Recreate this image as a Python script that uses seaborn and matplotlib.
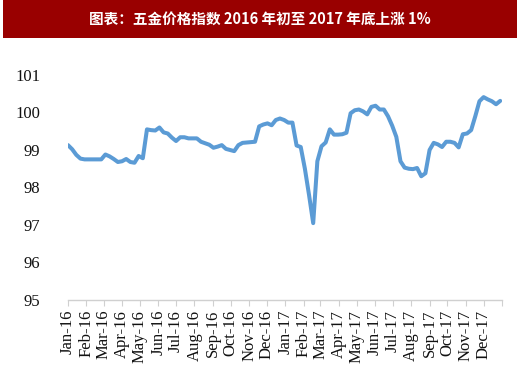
import numpy as np
import pandas as pd
import matplotlib
matplotlib.use("Agg")
import matplotlib.pyplot as plt
from matplotlib.patches import Rectangle
from matplotlib.font_manager import FontProperties
import seaborn as sns

title = "图表：五金价格指数 2016 年初至 2017 年底上涨 1%"
start_date = "2016-01-01"
index_values = [
    99.13, 99.02, 98.87, 98.77, 98.75, 98.75, 98.75, 98.75, 98.75, 98.88,
    98.83, 98.76, 98.68, 98.70, 98.76, 98.68, 98.66, 98.84, 98.78, 99.55,
    99.53, 99.52, 99.60, 99.47, 99.44, 99.33, 99.24, 99.34, 99.34, 99.31,
    99.31, 99.31, 99.22, 99.18, 99.14, 99.06, 99.09, 99.13, 99.03, 99.00,
    98.97, 99.13, 99.19, 99.20, 99.21, 99.22, 99.63, 99.68, 99.71, 99.66,
    99.80, 99.84, 99.80, 99.73, 99.73, 99.12, 99.08, 98.50, 97.80, 97.05,
    98.70, 99.10, 99.20, 99.55, 99.41, 99.41, 99.42, 99.46, 99.98, 100.06,
    100.08, 100.03, 99.95, 100.15, 100.18, 100.08, 100.08, 99.90, 99.65, 99.35,
    98.70, 98.53, 98.50, 98.49, 98.52, 98.30, 98.38, 99.00, 99.19, 99.15,
    99.08, 99.22, 99.22, 99.19, 99.07, 99.42, 99.44, 99.53, 99.90, 100.30,
    100.41, 100.35, 100.30, 100.22, 100.31,
]
y_ticks = [95, 96, 97, 98, 99, 100, 101]
month_labels = ["Jan-16", "Feb-16", "Mar-16", "Apr-16", "May-16", "Jun-16",
                "Jul-16", "Aug-16", "Sep-16", "Oct-16", "Nov-16", "Dec-16",
                "Jan-17", "Feb-17", "Mar-17", "Apr-17", "May-17", "Jun-17",
                "Jul-17", "Aug-17", "Sep-17", "Oct-17", "Nov-17", "Dec-17"]

dates = pd.date_range(start_date, periods=len(index_values), freq="7D")
df = pd.DataFrame({"date": dates, "value": index_values})

sns.set_theme(style="white")
plt.rcParams['font.family'] = ['Liberation Serif', 'DejaVu Serif']
serif = FontProperties(family="Liberation Serif", size=12)

fig = plt.figure(figsize=(5.2, 3.73), dpi=100)
fig.patch.set_facecolor("white")

# title bar
fig.patches.append(Rectangle((3/520, 1 - 38/373), 514/520, 38/373,
                             transform=fig.transFigure, facecolor="#990000",
                             edgecolor="none", zorder=0))
fig.text(0.5, 1 - 19/373, title, color="white", fontsize=10.5, fontweight="bold",
         ha="center", va="center",
         family=["Noto Sans CJK SC", "DejaVu Sans"])

ax = fig.add_axes([68/520, (373-300)/373, (502-68)/520, (300-75)/373])
sns.lineplot(data=df, x="date", y="value", ax=ax, color="#5B9BD5", linewidth=2.9)

month_starts = pd.date_range(start_date, periods=len(month_labels) + 1, freq="MS")
ax.set_ylim(95, 101)
ax.set_yticks(y_ticks)
ax.set_yticklabels([str(v) for v in y_ticks], fontproperties=serif, color="#111111")
ax.set_xlim(month_starts[0], month_starts[-1])
ax.set_xticks(month_starts)
ax.set_xticklabels(month_labels + [""], fontproperties=serif, rotation=90,
                   color="#111111")
ax.set_xlabel("")
ax.set_ylabel("")

for s in ["top", "right", "left"]:
    ax.spines[s].set_visible(False)
ax.spines["bottom"].set_color("#d0d0d0")
ax.spines["bottom"].set_linewidth(1.0)

ax.tick_params(axis="x", which="major", bottom=True, length=4, width=0.8,
               color="#d0d0d0", pad=3)
ax.tick_params(axis="y", left=False, pad=14)
ax.grid(False)

fig.savefig("out.png", dpi=100, facecolor="white")
